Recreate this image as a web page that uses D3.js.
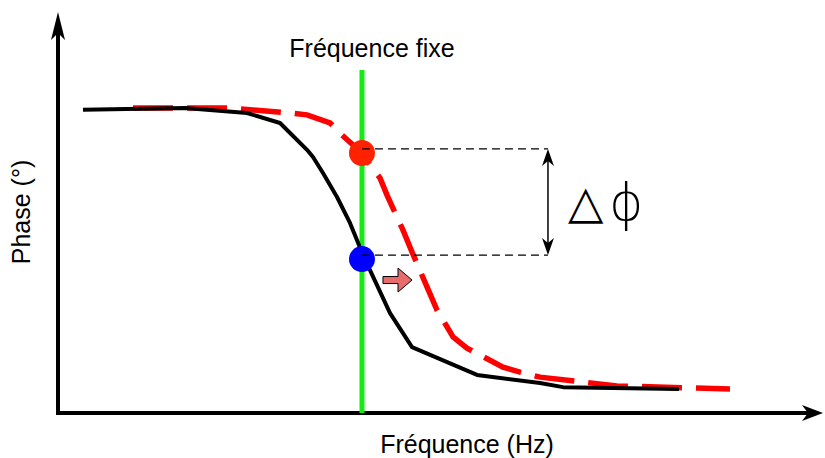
<!DOCTYPE html>
<html><head><meta charset="utf-8">
<script src="https://cdn.jsdelivr.net/npm/d3@7/dist/d3.min.js"></script>
<style>
html,body{margin:0;padding:0;background:#fff;}
svg{display:block;}
text{font-family:"Liberation Sans",Arial,Helvetica,sans-serif;fill:#000;}
</style></head>
<body>
<svg id="chart" width="825" height="458"></svg>
<script>
// ---- data (frequency in arbitrary units, phase in degrees) ----
const blackFreq  = [3.33, 16.93, 25.2, 29.6, 33.2, 34.0, 35.33, 37.2, 38.93, 40.13, 40.67, 41.6, 44.27, 47.2, 55.87, 64.27, 67.33, 82.8];
const blackPhase = [-0.6, 0, -1.6, -4.8, -13.4, -15.7, -20.8, -28.5, -36.8, -43.9, -48.4, -51.9, -65.7, -76.6, -85.5, -88.1, -89.4, -90];
const redFreq    = [10, 22.93, 30.93, 33.2, 36.27, 37.87, 40.53, 41.6, 42.93, 43.87, 46, 47.2, 49.2, 50.53, 52.67, 54.53, 59.33, 61.6, 64.27, 74.53, 89.6];
const redPhase   = [0, 0, -1.6, -2.2, -4.8, -8.65, -14.4, -18.3, -22.4, -27.9, -39.1, -46.1, -57.3, -64.7, -73.3, -76.9, -83.0, -84.6, -86.2, -89.0, -90];
const fixedFreq  = [40.53];
const fixedTop   = [12.2];
const dotPhases  = [-14.4, -48.4];          // red dot (shifted), blue dot (original)
const guidePhases = [-13.1, -47.1];         // Δφ guide lines
const guideEndFreq = [65.33];
const shiftArrowFreq = [43.33, 47.2];       // small pink arrow start/end
const shiftArrowPhase = [-55.1];
const labels = {title: "Fréquence fixe", x: "Fréquence (Hz)", y: "Phase (°)"};

// ---- scales ----
const x = d3.scaleLinear().domain([0, 100]).range([58, 808]);
const y = d3.scaleLinear().domain([-90, 0]).range([389, 108]);
const X0 = x(0), Y0 = y(-97.7), YTOP = y(30.75), XEND = 823;

const svg = d3.select("#chart");

// ---- axes with arrowheads ----
svg.append("line").attr("x1", X0).attr("x2", X0).attr("y1", Y0 + 2).attr("y2", YTOP + 18)
  .attr("stroke", "#000").attr("stroke-width", 4);
svg.append("line").attr("x1", X0 - 2).attr("x2", XEND - 14).attr("y1", Y0).attr("y2", Y0)
  .attr("stroke", "#000").attr("stroke-width", 4);
svg.append("path").attr("d", `M${X0},${YTOP} L${X0 - 7},${YTOP + 28} L${X0},${YTOP + 21} L${X0 + 7},${YTOP + 28} Z`).attr("fill", "#000");
svg.append("path").attr("d", `M${XEND},${Y0} L${XEND - 21},${Y0 - 8} L${XEND - 15},${Y0} L${XEND - 21},${Y0 + 8} Z`).attr("fill", "#000");

// ---- fixed frequency line ----
svg.append("line").attr("x1", x(fixedFreq[0])).attr("x2", x(fixedFreq[0]))
  .attr("y1", y(fixedTop[0])).attr("y2", Y0)
  .attr("stroke", "#13ec13").attr("stroke-width", 5);

// ---- curves ----
const line = d3.line().x(d => x(d[0])).y(d => y(d[1])).curve(d3.curveLinear);
svg.append("path").datum(redFreq.map((f, i) => [f, redPhase[i]]))
  .attr("d", line).attr("fill", "none").attr("stroke", "#ff0000").attr("stroke-width", 5.5)
  .attr("stroke-dasharray", "40,14");
svg.append("path").datum(blackFreq.map((f, i) => [f, blackPhase[i]]))
  .attr("d", line).attr("fill", "none").attr("stroke", "#000").attr("stroke-width", 4)
  .attr("stroke-linejoin", "round");

// ---- guide lines ----
guidePhases.forEach(p => {
  svg.append("line").attr("x1", x(fixedFreq[0])).attr("x2", x(guideEndFreq[0]))
    .attr("y1", y(p)).attr("y2", y(p))
    .attr("stroke", "#000").attr("stroke-width", 1.2).attr("stroke-dasharray", "8,5");
});

// ---- dots ----
const dotColors = ["#ff2200", "#0000ff"];
svg.selectAll("circle.dot").data(dotPhases).join("circle").attr("class", "dot")
  .attr("cx", x(fixedFreq[0])).attr("cy", d => y(d)).attr("r", 13)
  .attr("fill", (d, i) => dotColors[i]);
// redraw guide starts over dots
guidePhases.forEach(p => {
  svg.append("line").attr("x1", x(fixedFreq[0])).attr("x2", x(fixedFreq[0]) + 12)
    .attr("y1", y(p)).attr("y2", y(p))
    .attr("stroke", "#000").attr("stroke-width", 1.2).attr("stroke-dasharray", "8,5");
});

// ---- double arrow for Δφ ----
const ax = x(guideEndFreq[0]), aTop = y(guidePhases[0]), aBot = y(guidePhases[1]);
svg.append("line").attr("x1", ax).attr("x2", ax).attr("y1", aTop + 8).attr("y2", aBot - 8)
  .attr("stroke", "#000").attr("stroke-width", 1.5);
svg.append("path").attr("d", `M${ax},${aTop} L${ax - 6},${aTop + 17} L${ax},${aTop + 12} L${ax + 6},${aTop + 17} Z`).attr("fill", "#000");
svg.append("path").attr("d", `M${ax},${aBot} L${ax - 6},${aBot - 17} L${ax},${aBot - 12} L${ax + 6},${aBot - 17} Z`).attr("fill", "#000");

const dl = svg.append("text").attr("x", ax + 20).attr("y", (aTop + aBot) / 2 + 16)
  .style("font-family", "'DejaVu Sans', sans-serif").style("font-weight", 200);
dl.append("tspan").text("△").style("font-size", "46px");
dl.append("tspan").attr("dx", 6).attr("dy", 2).text("ϕ").style("font-size", "52px");

// ---- small shift arrow ----
const sx0 = x(shiftArrowFreq[0]), sx1 = x(shiftArrowFreq[1]), sy = y(shiftArrowPhase[0]);
svg.append("path")
  .attr("d", `M${sx0},${sy - 3.5} L${sx1 - 14},${sy - 3.5} L${sx1 - 14},${sy - 12} L${sx1},${sy} L${sx1 - 14},${sy + 12} L${sx1 - 14},${sy + 3.5} L${sx0},${sy + 3.5} Z`)
  .attr("fill", "#e86c6c").attr("stroke", "#000").attr("stroke-width", 1);

// ---- labels ----
svg.append("text").attr("x", x(fixedFreq[0]) + 10).attr("y", 57).attr("text-anchor", "middle")
  .style("font-size", "25px").text(labels.title);
svg.append("text").attr("x", 467).attr("y", 453).attr("text-anchor", "middle")
  .style("font-size", "25px").text(labels.x);
svg.append("text").attr("transform", "translate(30,212) rotate(-90)").attr("text-anchor", "middle")
  .style("font-size", "25px").text(labels.y);
</script>
</body></html>
